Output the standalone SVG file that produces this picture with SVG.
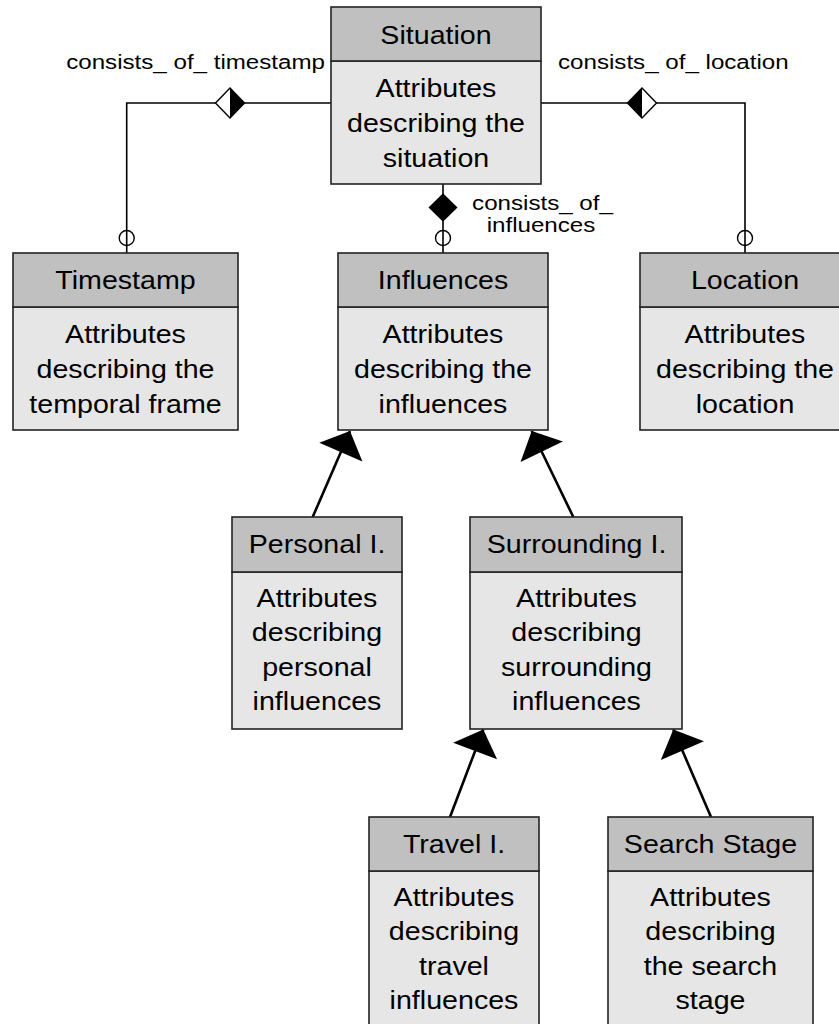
<svg xmlns="http://www.w3.org/2000/svg" width="839" height="1024" viewBox="0 0 839 1024">
  <style>
    .hdr { fill: #c0c0c0; stroke: #222; stroke-width: 1.6; }
    .body { fill: #e6e6e6; stroke: #222; stroke-width: 1.6; }
    .t { font-family: "Liberation Sans", Arial, sans-serif; font-size: 26px; fill: #000; text-anchor: middle; }
    .lbl { font-family: "Liberation Sans", Arial, sans-serif; font-size: 21px; fill: #000; }
    .rel { fill: none; stroke: #000; stroke-width: 1.6; }
    .gen { fill: none; stroke: #000; stroke-width: 2.6; marker-end: url(#tri); }
    .ring { fill: none; stroke: #000; stroke-width: 1.4; }
  </style>
  <defs>
    <marker id="tri" markerUnits="userSpaceOnUse" markerWidth="30" markerHeight="50" viewBox="-25 -25 27 50" refX="0" refY="0" orient="auto">
      <path d="M0,0 L-23,-23.5 L-23,23.5 Z" fill="#000"/>
    </marker>
  </defs>

  <rect width="839" height="1024" fill="#fff"/>

  <!-- connectors -->
  <g id="connectors">
    <!-- Situation to Timestamp -->
    <polyline class="rel" points="331,103 126.7,103 126.7,253"/>
    <path d="M215.5,103 L230,88 L244.5,103 L230,118 Z" fill="#fff" stroke="#000" stroke-width="1.4"/>
    <path d="M230,88 L244.5,103 L230,118 Z" fill="#000"/>
    <circle class="ring" cx="126.7" cy="238" r="7.5"/>
    <text class="lbl" text-anchor="end" transform="translate(325 68.5) scale(1.15 1)">consists_ of_ timestamp</text>

    <!-- Situation to Location -->
    <polyline class="rel" points="541,103 745,103 745,253"/>
    <path d="M627.5,103 L642,88 L656.5,103 L642,118 Z" fill="#fff" stroke="#000" stroke-width="1.4"/>
    <path d="M642,88 L627.5,103 L642,118 Z" fill="#000"/>
    <circle class="ring" cx="745" cy="238" r="7.5"/>
    <text class="lbl" transform="translate(558 68.5) scale(1.15 1)">consists_ of_ location</text>

    <!-- Situation to Influences -->
    <line class="rel" x1="443" y1="184" x2="443" y2="253"/>
    <path d="M428.5,207.5 L443,193.3 L457.5,207.5 L443,221.7 Z" fill="#000"/>
    <circle class="ring" cx="443" cy="238" r="7.5"/>
    <text class="lbl" text-anchor="middle" transform="translate(542.5 209.5) scale(1.15 1)">consists_ of_</text>
    <text class="lbl" text-anchor="middle" transform="translate(541 231.5) scale(1.15 1)">influences</text>

    <!-- specialisations -->
    <line class="gen" x1="312.7" y1="517" x2="350" y2="431"/>
    <line class="gen" x1="573.3" y1="517" x2="531.7" y2="431"/>
    <line class="gen" x1="450" y1="817" x2="483.3" y2="729.5"/>
    <line class="gen" x1="711" y1="817" x2="673.3" y2="729.5"/>
  </g>

  <!-- Situation -->
  <g id="situation">
    <rect class="body" x="331" y="61" width="210" height="123"/>
    <rect class="hdr" x="331" y="7" width="210" height="54"/>
    <text class="t" transform="translate(436 43.5) scale(1.1 1)">Situation</text>
    <text class="t" transform="translate(436 97) scale(1.1 1)">Attributes</text>
    <text class="t" transform="translate(436 132) scale(1.1 1)">describing the</text>
    <text class="t" transform="translate(436 167) scale(1.1 1)">situation</text>
  </g>

  <!-- Timestamp -->
  <g id="timestamp">
    <rect class="body" x="13" y="307" width="225" height="123"/>
    <rect class="hdr" x="13" y="253" width="225" height="54"/>
    <text class="t" transform="translate(125.5 289) scale(1.1 1)">Timestamp</text>
    <text class="t" transform="translate(125.5 343) scale(1.1 1)">Attributes</text>
    <text class="t" transform="translate(125.5 378) scale(1.1 1)">describing the</text>
    <text class="t" transform="translate(125.5 413) scale(1.1 1)">temporal frame</text>
  </g>

  <!-- Influences -->
  <g id="influences">
    <rect class="body" x="338" y="307" width="210" height="123"/>
    <rect class="hdr" x="338" y="253" width="210" height="54"/>
    <text class="t" transform="translate(443 289) scale(1.1 1)">Influences</text>
    <text class="t" transform="translate(443 343) scale(1.1 1)">Attributes</text>
    <text class="t" transform="translate(443 378) scale(1.1 1)">describing the</text>
    <text class="t" transform="translate(443 413) scale(1.1 1)">influences</text>
  </g>

  <!-- Location -->
  <g id="location">
    <rect class="body" x="640" y="307" width="210" height="123"/>
    <rect class="hdr" x="640" y="253" width="210" height="54"/>
    <text class="t" transform="translate(745 289) scale(1.1 1)">Location</text>
    <text class="t" transform="translate(745 343) scale(1.1 1)">Attributes</text>
    <text class="t" transform="translate(745 378) scale(1.1 1)">describing the</text>
    <text class="t" transform="translate(745 413) scale(1.1 1)">location</text>
  </g>

  <!-- Personal influences -->
  <g id="personal">
    <rect class="body" x="232" y="572" width="170" height="157"/>
    <rect class="hdr" x="232" y="517" width="170" height="55"/>
    <text class="t" transform="translate(317 553) scale(1.1 1)">Personal I.</text>
    <text class="t" transform="translate(317 606.5) scale(1.1 1)">Attributes</text>
    <text class="t" transform="translate(317 641) scale(1.1 1)">describing</text>
    <text class="t" transform="translate(317 675.5) scale(1.1 1)">personal</text>
    <text class="t" transform="translate(317 710) scale(1.1 1)">influences</text>
  </g>

  <!-- Surrounding influences -->
  <g id="surrounding">
    <rect class="body" x="470" y="572" width="212" height="157"/>
    <rect class="hdr" x="470" y="517" width="212" height="55"/>
    <text class="t" transform="translate(576.5 553) scale(1.1 1)">Surrounding I.</text>
    <text class="t" transform="translate(576.5 606.5) scale(1.1 1)">Attributes</text>
    <text class="t" transform="translate(576.5 641) scale(1.1 1)">describing</text>
    <text class="t" transform="translate(576.5 675.5) scale(1.1 1)">surrounding</text>
    <text class="t" transform="translate(576.5 710) scale(1.1 1)">influences</text>
  </g>

  <!-- Travel influences -->
  <g id="travel">
    <rect class="body" x="369" y="871" width="170" height="160"/>
    <rect class="hdr" x="369" y="817" width="170" height="54"/>
    <text class="t" transform="translate(454 852.5) scale(1.1 1)">Travel I.</text>
    <text class="t" transform="translate(454 905.5) scale(1.1 1)">Attributes</text>
    <text class="t" transform="translate(454 940) scale(1.1 1)">describing</text>
    <text class="t" transform="translate(454 974.5) scale(1.1 1)">travel</text>
    <text class="t" transform="translate(454 1009) scale(1.1 1)">influences</text>
  </g>

  <!-- Search stage -->
  <g id="search-stage">
    <rect class="body" x="608" y="871" width="205" height="160"/>
    <rect class="hdr" x="608" y="817" width="205" height="54"/>
    <text class="t" transform="translate(710.5 852.5) scale(1.1 1)">Search Stage</text>
    <text class="t" transform="translate(710.5 905.5) scale(1.1 1)">Attributes</text>
    <text class="t" transform="translate(710.5 940) scale(1.1 1)">describing</text>
    <text class="t" transform="translate(710.5 974.5) scale(1.1 1)">the search</text>
    <text class="t" transform="translate(710.5 1009) scale(1.1 1)">stage</text>
  </g>
</svg>
